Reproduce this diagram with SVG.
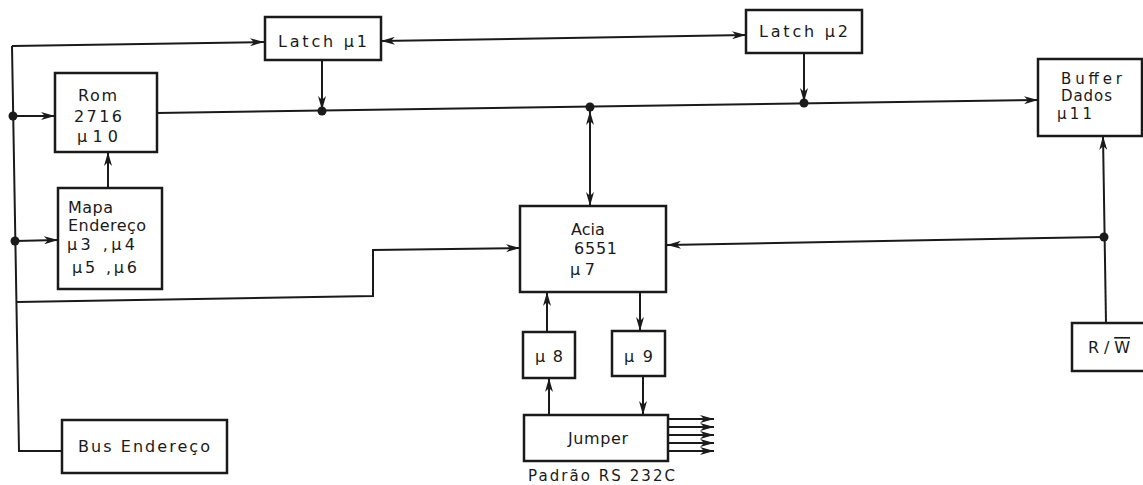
<svg xmlns="http://www.w3.org/2000/svg" width="1143" height="485" viewBox="0 0 1143 485">
<style>
.box{fill:#fff;stroke:#1a1a1a;stroke-width:2.5}
.ln{fill:none;stroke:#1a1a1a;stroke-width:2}
.arr{marker-end:url(#ah)}
.arr2{marker-start:url(#ahs);marker-end:url(#ah)}
.dot{fill:#1a1a1a}
text{font-family:"DejaVu Sans","Liberation Sans",Arial,sans-serif;font-size:16px;fill:#1a1a1a}
.sm{font-size:15px}
</style>
<defs>
<marker id="ah" viewBox="0 0 14 8" markerWidth="14" markerHeight="8" refX="14" refY="4" orient="auto" markerUnits="userSpaceOnUse">
<path d="M0,0 L14,4 L0,8 L4,4 z" fill="#1a1a1a"/>
</marker>
<marker id="ahs" viewBox="0 0 14 8" markerWidth="14" markerHeight="8" refX="0" refY="4" orient="auto" markerUnits="userSpaceOnUse">
<path d="M14,0 L0,4 L14,8 L10,4 z" fill="#1a1a1a"/>
</marker>
</defs>

<g id="connectors">
<polyline class="ln" points="12,46 19,451 62,451"/>
<line class="ln arr" x1="12" y1="46" x2="264" y2="42"/>
<line class="ln arr" x1="13" y1="116" x2="55" y2="116"/>
<line class="ln arr" x1="15" y1="241" x2="58" y2="240"/>
<polyline class="ln arr" points="17,302 373,296 373,250 520,248"/>
<line class="ln arr" x1="108" y1="188" x2="108" y2="152"/>
<line class="ln arr" x1="157" y1="113" x2="1038" y2="100"/>
<line class="ln arr" x1="322" y1="60" x2="322" y2="110"/>
<line class="ln arr" x1="804" y1="53" x2="804" y2="102"/>
<line class="ln arr2" x1="381" y1="41" x2="746" y2="35"/>
<line class="ln arr2" x1="590" y1="111" x2="590" y2="206"/>
<line class="ln arr" x1="1106" y1="323" x2="1103" y2="136"/>
<line class="ln arr" x1="1104" y1="237" x2="667" y2="245"/>
<line class="ln arr" x1="640" y1="292" x2="640" y2="331"/>
<line class="ln arr" x1="547" y1="332" x2="547" y2="292"/>
<line class="ln arr" x1="549" y1="415" x2="549" y2="378"/>
<line class="ln arr" x1="643" y1="376" x2="643" y2="415"/>
<line class="ln arr" x1="668" y1="419" x2="714" y2="419"/>
<line class="ln arr" x1="668" y1="427" x2="714" y2="427"/>
<line class="ln arr" x1="668" y1="435" x2="714" y2="435"/>
<line class="ln arr" x1="668" y1="443" x2="714" y2="443"/>
<line class="ln arr" x1="668" y1="451" x2="714" y2="451"/>
<circle class="dot" cx="13" cy="116" r="4.5"/>
<circle class="dot" cx="15" cy="241" r="4.5"/>
<circle class="dot" cx="322" cy="111" r="4.5"/>
<circle class="dot" cx="590" cy="107" r="4.5"/>
<circle class="dot" cx="804" cy="103" r="4.5"/>
<circle class="dot" cx="1104" cy="237" r="4.5"/>
</g>

<g id="latch1">
<rect class="box" x="265" y="17" width="116" height="43"/>
<text x="278" y="47" textLength="89" lengthAdjust="spacing">Latch µ1</text>
</g>
<g id="latch2">
<rect class="box" x="746" y="10" width="116" height="43"/>
<text x="759" y="37" textLength="89" lengthAdjust="spacing">Latch µ2</text>
</g>
<g id="rom">
<rect class="box" x="55" y="73" width="102" height="79"/>
<text x="78" y="101" textLength="39" lengthAdjust="spacing">Rom</text>
<text x="74" y="122" textLength="48" lengthAdjust="spacing">2716</text>
<text x="77" y="142" textLength="41" lengthAdjust="spacing">µ10</text>
</g>
<g id="mapa">
<rect class="box" x="58" y="188" width="104" height="101"/>
<text x="68" y="213" textLength="45" lengthAdjust="spacing">Mapa</text>
<text x="68" y="231" textLength="78" lengthAdjust="spacing">Endereço</text>
<text x="67" y="250" textLength="68" lengthAdjust="spacing">µ3 ,µ4</text>
<text x="72" y="273" textLength="65" lengthAdjust="spacing">µ5 ,µ6</text>
</g>
<g id="buffer">
<rect class="box" x="1038" y="59" width="104" height="77"/>
<text class="sm" x="1061" y="84" textLength="61" lengthAdjust="spacing">Buffer</text>
<text class="sm" x="1061" y="101" textLength="51" lengthAdjust="spacing">Dados</text>
<text class="sm" x="1057" y="119" textLength="35" lengthAdjust="spacing">µ11</text>
</g>
<g id="acia">
<rect class="box" x="520" y="206" width="146" height="86"/>
<text x="571" y="235">Acia</text>
<text x="574" y="254" textLength="43" lengthAdjust="spacing">6551</text>
<text x="570" y="275" textLength="25" lengthAdjust="spacing">µ7</text>
</g>
<g id="u8">
<rect class="box" x="523" y="332" width="52" height="46"/>
<text x="535" y="362" textLength="28" lengthAdjust="spacing">µ8</text>
</g>
<g id="u9">
<rect class="box" x="612" y="331" width="53" height="45"/>
<text x="624" y="362" textLength="29" lengthAdjust="spacing">µ9</text>
</g>
<g id="jumper">
<rect class="box" x="524" y="415" width="144" height="46"/>
<text x="568" y="444" textLength="60" lengthAdjust="spacing">Jumper</text>
<text class="sm" x="528" y="481" textLength="147" lengthAdjust="spacing">Padrão RS 232C</text>
</g>
<g id="rw">
<rect class="box" x="1072" y="323" width="73" height="48"/>
<text x="1088" y="353" textLength="42" lengthAdjust="spacing">R/<tspan style="text-decoration:overline">W</tspan></text>
</g>
<g id="bus">
<rect class="box" x="62" y="420" width="165" height="53"/>
<text x="78" y="452" textLength="132" lengthAdjust="spacing">Bus Endereço</text>
</g>
</svg>
